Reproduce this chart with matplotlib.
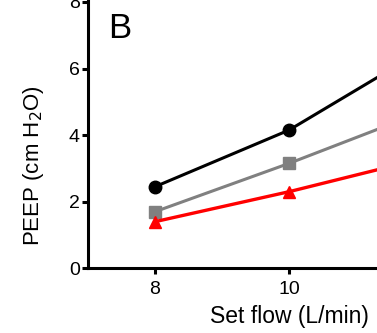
import matplotlib
matplotlib.use('Agg')
import matplotlib.pyplot as plt

flow = [8, 10, 12]
peep_black = [2.45, 4.15, 6.55]
peep_gray = [1.7, 3.15, 4.7]
peep_red = [1.4, 2.3, 3.3]
y_ticks = [0, 2, 4, 6, 8]
x_ticks = [8, 10, 12]

plt.rcParams['font.family'] = ['Liberation Sans', 'DejaVu Sans']

fig = plt.figure(figsize=(3.77, 3.33), dpi=100)
# axes runs past the right/top edge, like the cropped source panel
ax_h = 8.5 * 33.3
ax = fig.add_axes([88 / 377, 1 - 268.3 / 333, 6 * 67 / 377, ax_h / 333])

ax.plot(flow, peep_black, color='black', lw=2.2, marker='o', ms=9, clip_on=False)
ax.plot(flow, peep_gray, color='#808080', lw=2.2, marker='s', ms=9, clip_on=False)
ax.plot(flow, peep_red, color='#ff0000', lw=2.4, marker='^', ms=9, clip_on=False)

ax.set_xlim(7, 13)
ax.set_ylim(0, 8.5)
ax.set_xticks(x_ticks)
ax.set_yticks(y_ticks)
ax.spines['top'].set_visible(False)
ax.spines['right'].set_visible(False)
for s in ('left', 'bottom'):
    ax.spines[s].set_linewidth(2.2)
ax.tick_params(width=2.2, length=4, labelsize=14, pad=2)
ax.tick_params(axis='x', pad=5)

ax.set_xlabel('Set flow (L/min)', fontsize=16.5, labelpad=5)
ax.set_ylabel('PEEP (cm H$_2$O)', fontsize=16)
ax.yaxis.set_label_coords((46 - 88) / 402, (268.3 - 166) / ax_h)
ax.text(20 / 402, (268.3 - 12) / ax_h, 'B', transform=ax.transAxes, fontsize=25,
        va='top', ha='left')

fig.savefig('out.png', dpi=100)
